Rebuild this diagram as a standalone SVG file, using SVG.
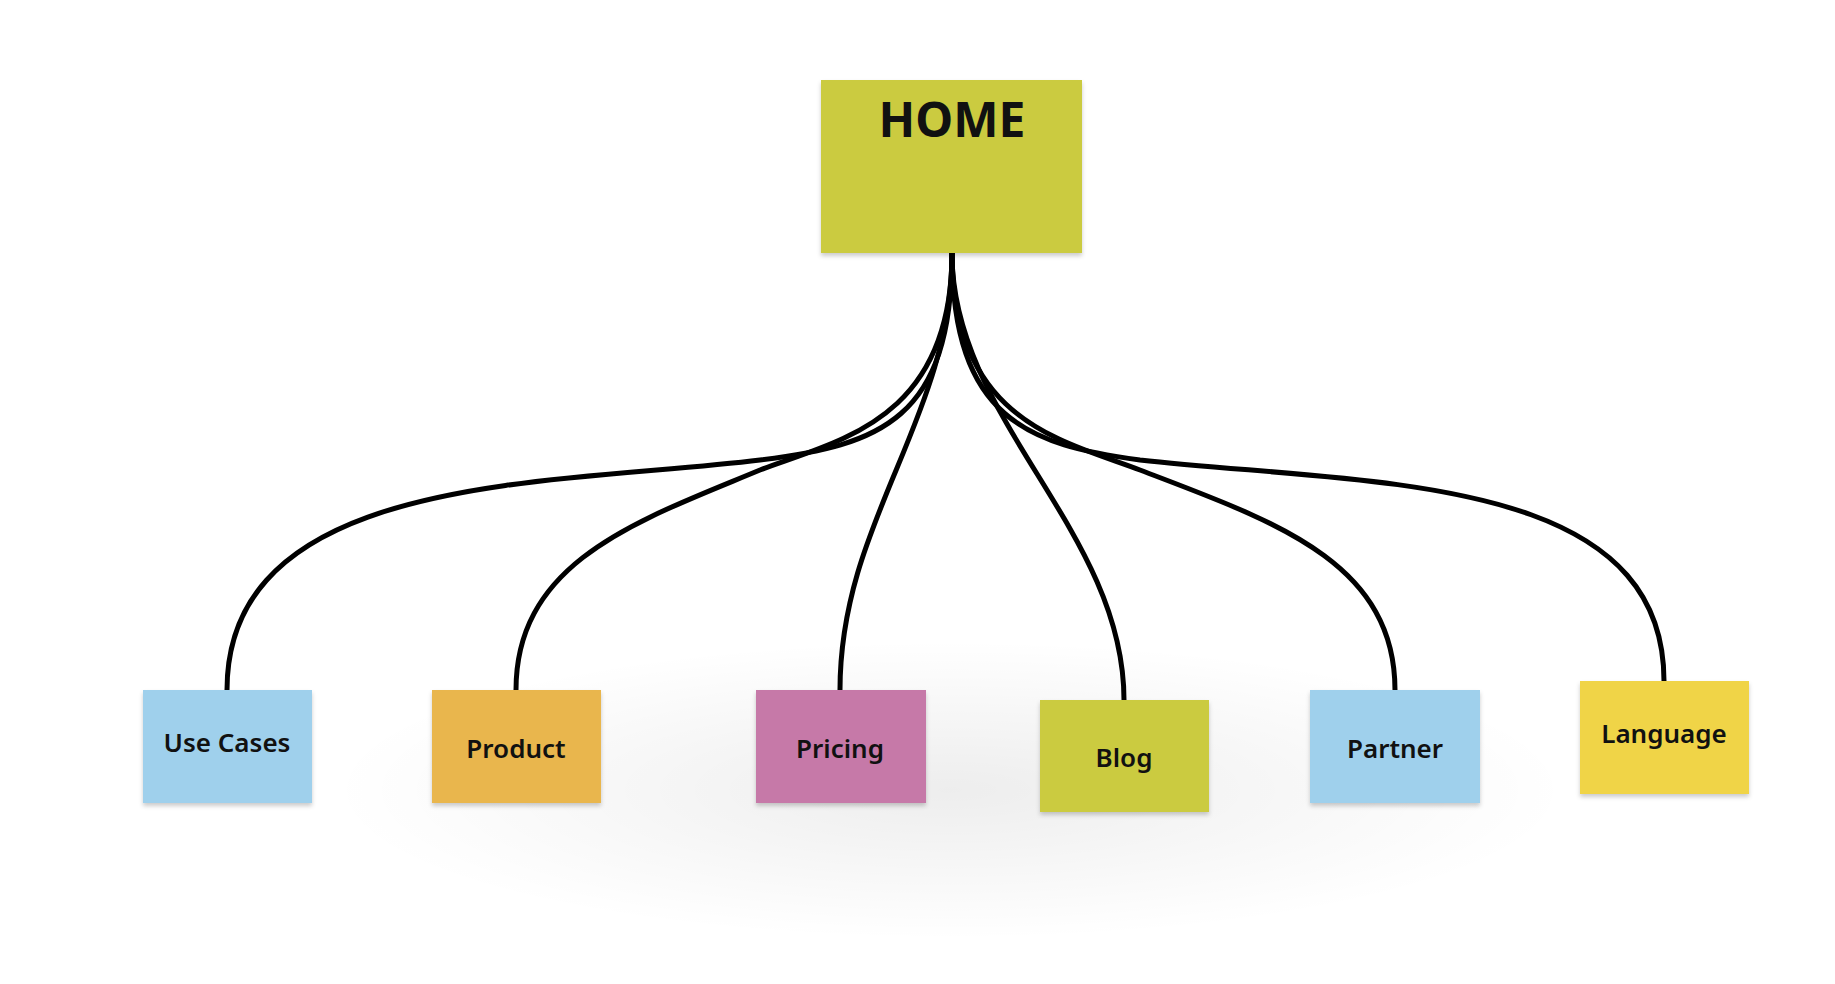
<svg xmlns="http://www.w3.org/2000/svg" width="1835" height="984" viewBox="0 0 1835 984">
<defs>
<filter id="sh" x="-20%" y="-20%" width="140%" height="150%"><feDropShadow dx="0" dy="3" stdDeviation="2" flood-color="#000" flood-opacity="0.2"/></filter>
<radialGradient id="g" cx="0.5" cy="0.5" r="0.5"><stop offset="0" stop-color="#000" stop-opacity="0.07"/><stop offset="1" stop-color="#000" stop-opacity="0"/></radialGradient>
</defs>
<style>
.n{filter:url(#sh)}
.t{font-family:"Noto Sans",sans-serif;font-size:26px;font-weight:600;fill:#111;text-anchor:middle}
.c{fill:none;stroke:#000;stroke-width:5;stroke-linecap:round}
</style>
<rect width="1835" height="984" fill="#fff"/>
<ellipse cx="950" cy="790" rx="620" ry="150" fill="url(#g)"/>
<g id="connectors">
<path class="c" d="M952,253 C952,420 880,445 760,460 C560,485 227,470 227,690"/>
<path class="c" d="M952,253 C952,420 840,440 760,470 C640,520 516,560 516,690"/>
<path class="c" d="M952,253 C952,420 840,520 840,690"/>
<path class="c" d="M952,253 C952,420 1124,530 1124,700"/>
<path class="c" d="M952,253 C952,420 1060,440 1140,470 C1270,520 1395,560 1395,690"/>
<path class="c" d="M952,253 C952,420 1030,445 1140,460 C1360,485 1664,470 1664,681"/>
</g>
<g id="home"><rect class="n" x="821" y="80" width="261" height="173" fill="#cbcb40"/><text x="952" y="137" class="t" style="font-size:48px;font-weight:700">HOME</text></g>
<g id="usecases"><rect class="n" x="143" y="690" width="169" height="113" fill="#9fd0ec"/><text class="t" x="227" y="752">Use Cases</text></g>
<g id="product"><rect class="n" x="432" y="690" width="169" height="113" fill="#e9b64d"/><text class="t" x="516" y="758">Product</text></g>
<g id="pricing"><rect class="n" x="756" y="690" width="170" height="113" fill="#c679a8"/><text class="t" x="840" y="758">Pricing</text></g>
<g id="blog"><rect class="n" x="1040" y="700" width="169" height="112" fill="#cbcb40"/><text class="t" x="1124" y="767">Blog</text></g>
<g id="partner"><rect class="n" x="1310" y="690" width="170" height="113" fill="#9fd0ec"/><text class="t" x="1395" y="758">Partner</text></g>
<g id="language"><rect class="n" x="1580" y="681" width="169" height="113" fill="#f0d446"/><text class="t" x="1664" y="743">Language</text></g>
</svg>
